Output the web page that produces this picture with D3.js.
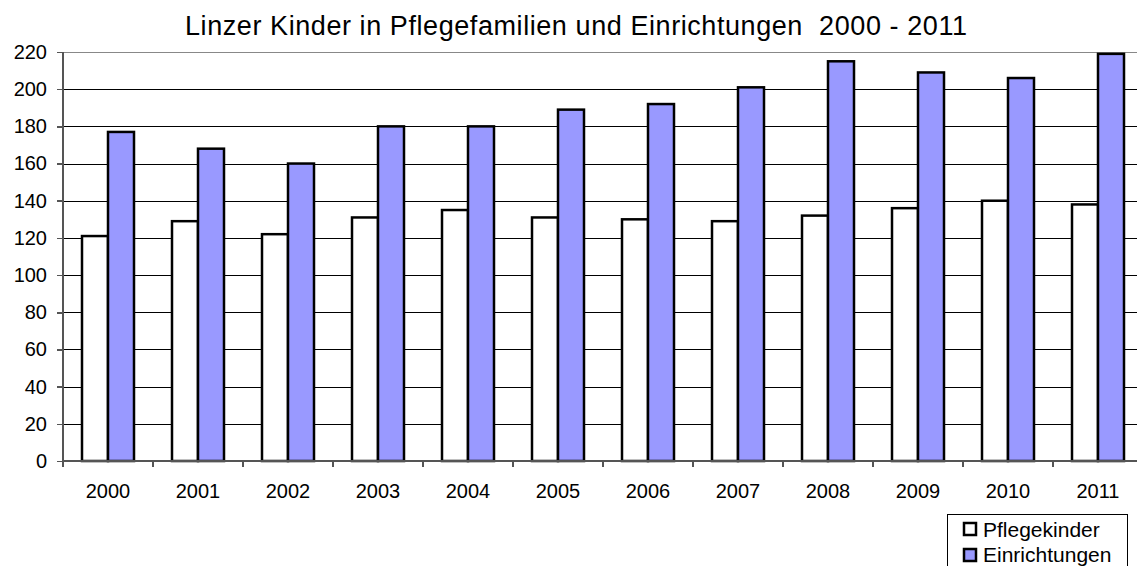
<!DOCTYPE html>
<html lang="de">
<head>
<meta charset="UTF-8">
<title>Linzer Kinder</title>
<style>
    body { margin: 0; background: #fff; }
    #chart { font-family: "Liberation Sans", Arial, sans-serif; }
    .grid line { stroke: #000; stroke-width: 1px; shape-rendering: crispEdges; }
    .axis path, .axis line { stroke: #555; stroke-width: 1.5px; shape-rendering: crispEdges; fill: none; }
    .axis text { font-size: 20px; fill: #000; font-family: "Liberation Sans", Arial, sans-serif; }
    .bar { stroke: #000; stroke-width: 2.5px; }
</style>
<script src="https://d3js.org/d3.v7.min.js"></script>
</head>
<body>
<div id="chart"></div>
<script>
    // data
    const years = ["2000", "2001", "2002", "2003", "2004", "2005", "2006", "2007", "2008", "2009", "2010", "2011"];
    const pflegekinder = [121, 129, 122, 131, 135, 131, 130, 129, 132, 136, 140, 138];
    const einrichtungen = [177, 168, 160, 180, 180, 189, 192, 201, 215, 209, 206, 219];
    const seriesNames = ["Pflegekinder", "Einrichtungen"];
    const colors = ["#ffffff", "#9999ff"];
    const yTicks = d3.range(0, 221, 20);

    const W = 1137, H = 566;
    const margin = { top: 52, left: 63, bottom: 105 };
    const plotW = 1080, plotH = H - margin.top - margin.bottom;

    const svg = d3.select("#chart").append("svg")
        .attr("width", W).attr("height", H);

    svg.append("text")
        .attr("x", 185).attr("y", 35)
        .attr("textLength", 782)
        .attr("lengthAdjust", "spacing")
        .style("font-size", "27px")
        .style("white-space", "pre")
        .text("Linzer Kinder in Pflegefamilien und Einrichtungen  2000 - 2011");

    const g = svg.append("g").attr("transform", `translate(${margin.left},${margin.top})`);

    const x = d3.scaleBand().domain(years).range([0, plotW]);
    const x1 = d3.scaleBand().domain(seriesNames).range([19, x.bandwidth() - 19]);
    const y = d3.scaleLinear().domain([0, 220]).range([plotH, 0]);

    // gridlines
    g.append("g").attr("class", "grid")
        .selectAll("line").data(yTicks.filter(d => d > 0))
        .enter().append("line")
        .attr("x1", 0).attr("x2", plotW)
        .attr("y1", d => Math.round(y(d)) + 0.5).attr("y2", d => Math.round(y(d)) + 0.5)
        .style("stroke", d => d === 220 ? "#888" : "#000");

    // bars
    const rows = years.map((yr, i) => ({ year: yr, values: [pflegekinder[i], einrichtungen[i]] }));
    const grp = g.selectAll(".yr").data(rows).enter().append("g")
        .attr("transform", d => `translate(${x(d.year)},0)`);
    grp.selectAll("rect").data(d => d.values.map((v, j) => ({ name: seriesNames[j], v, j })))
        .enter().append("rect")
        .attr("class", "bar")
        .attr("x", d => x1(d.name))
        .attr("width", x1.bandwidth())
        .attr("y", d => y(d.v))
        .attr("height", d => y(0) - y(d.v))
        .attr("fill", d => colors[d.j]);

    // axes
    g.append("g").attr("class", "axis")
        .call(d3.axisLeft(y).tickValues(yTicks).tickSize(6).tickPadding(10))
        .call(a => a.select(".domain").attr("d", `M0,${plotH}V0`));

    const xAxis = g.append("g").attr("class", "axis")
        .attr("transform", `translate(0,${plotH})`);
    xAxis.append("line").attr("x1", 0).attr("x2", plotW).attr("y1", 0).attr("y2", 0);
    xAxis.selectAll(".tk").data(years).enter().append("line")
        .attr("x1", d => x(d)).attr("x2", d => x(d)).attr("y1", 0).attr("y2", 6);
    xAxis.selectAll("text").data(years).enter().append("text")
        .attr("x", d => x(d) + x.bandwidth() / 2).attr("y", 37)
        .attr("text-anchor", "middle")
        .text(d => d);

    // legend
    const lg = svg.append("g").attr("transform", "translate(947,514)");
    lg.append("rect").attr("x", 0.5).attr("y", 0.5).attr("width", 180).attr("height", 60)
        .attr("fill", "#fff").attr("stroke", "#000").attr("stroke-width", 1);
    seriesNames.forEach((n, i) => {
        lg.append("rect").attr("x", 17).attr("y", 9 + i * 26).attr("width", 12).attr("height", 12)
            .attr("fill", colors[i]).attr("stroke", "#000").attr("stroke-width", 2.5);
        lg.append("text").attr("x", 36).attr("y", 23 + i * 25)
            .style("font-size", "21px").text(n);
    });
</script>
</body>
</html>
